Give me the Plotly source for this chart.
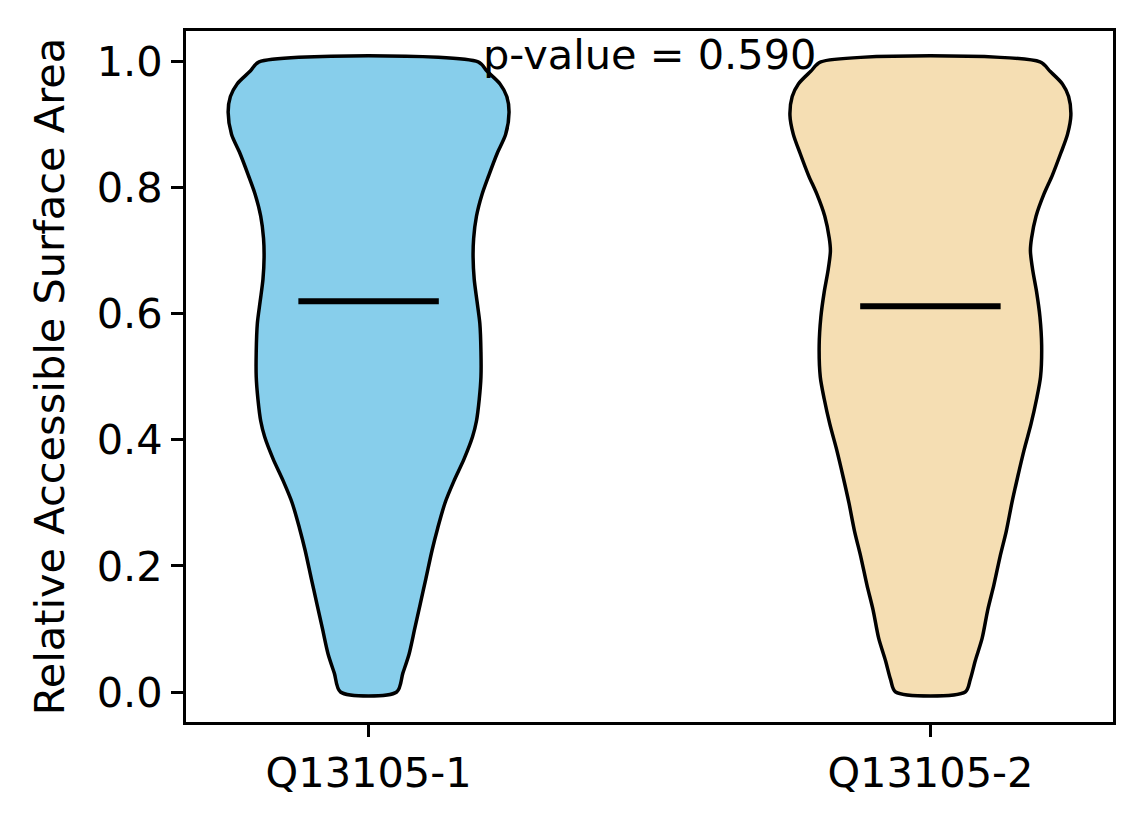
import plotly.graph_objects as go

# isoform labels and their positions on the x axis
labels = ["Q13105-1", "Q13105-2"]
positions = [1, 2]
colors = ["#87CEEB", "#F5DEB3"]

# violin outlines: RSA level -> half width (x units)
rsa_1 = [0.0, 0.03, 0.06, 0.10, 0.14, 0.18, 0.225, 0.26, 0.30, 0.335, 0.37, 0.405,
         0.43, 0.465, 0.50, 0.54, 0.585, 0.62, 0.655, 0.69, 0.72, 0.755, 0.79,
         0.82, 0.855, 0.885, 0.92, 0.945, 0.965, 0.985, 1.0]
half_1 = [0.050, 0.061, 0.072, 0.082, 0.092, 0.102, 0.113, 0.123, 0.136, 0.152, 0.170, 0.185,
          0.192, 0.197, 0.200, 0.200, 0.198, 0.193, 0.188, 0.186, 0.187, 0.192, 0.202,
          0.214, 0.229, 0.244, 0.250, 0.246, 0.234, 0.211, 0.195]

rsa_2 = [0.0, 0.02, 0.05, 0.085, 0.13, 0.17, 0.215, 0.255, 0.30, 0.34, 0.385, 0.425,
         0.465, 0.50, 0.55, 0.595, 0.635, 0.67, 0.70, 0.72, 0.755, 0.79, 0.82,
         0.855, 0.885, 0.915, 0.945, 0.965, 0.985, 1.0]
half_2 = [0.062, 0.071, 0.080, 0.092, 0.102, 0.113, 0.124, 0.135, 0.145, 0.155, 0.167, 0.179,
          0.189, 0.196, 0.198, 0.195, 0.189, 0.182, 0.178, 0.180, 0.188, 0.202, 0.217,
          0.232, 0.244, 0.250, 0.246, 0.235, 0.213, 0.195]

means = [0.620, 0.612]
p_value = 0.590

FS = 41.5

fig = go.Figure()

for pos, color, ys, hw, m in zip(positions, colors, [rsa_1, rsa_2], [half_1, half_2], means):
    xs = [pos - h for h in hw] + [pos + h for h in reversed(hw)]
    yy = ys + list(reversed(ys))
    fig.add_trace(go.Scatter(x=xs + [xs[0]], y=yy + [yy[0]], mode="lines", fill="toself",
                             fillcolor=color, line=dict(color="black", width=3.5,
                                                        shape="spline", smoothing=0.8),
                             hoverinfo="skip", showlegend=False))
    fig.add_trace(go.Scatter(x=[pos - 0.125, pos + 0.125], y=[m, m], mode="lines",
                             line=dict(color="black", width=6), showlegend=False))

fig.add_annotation(x=1.5, y=1.012, xref="x", yref="y", text=f"p-value = {p_value:.3f}",
                   showarrow=False, yanchor="middle", font=dict(size=FS, color="black"))

axis_style = dict(showline=True, linecolor="black", linewidth=3, mirror=True,
                  ticks="outside", ticklen=12, tickwidth=3, tickcolor="black",
                  showgrid=False, zeroline=False, tickfont=dict(size=FS, color="black"))

fig.update_xaxes(range=[0.675, 2.325], tickvals=positions, ticktext=labels, **axis_style)
fig.update_yaxes(range=[-0.0476, 1.049], tickvals=[0, 0.2, 0.4, 0.6, 0.8, 1.0],
                 tickformat=".1f", title=dict(text="Relative Accessible Surface Area",
                                              font=dict(size=FS, color="black"), standoff=20),
                 **axis_style)

fig.update_layout(
    width=1144, height=824,
    margin=dict(l=178, r=39, t=23, b=110),
    plot_bgcolor="white", paper_bgcolor="white",
    font=dict(family="DejaVu Sans", color="black"),
)
fig.write_html("out.html")
